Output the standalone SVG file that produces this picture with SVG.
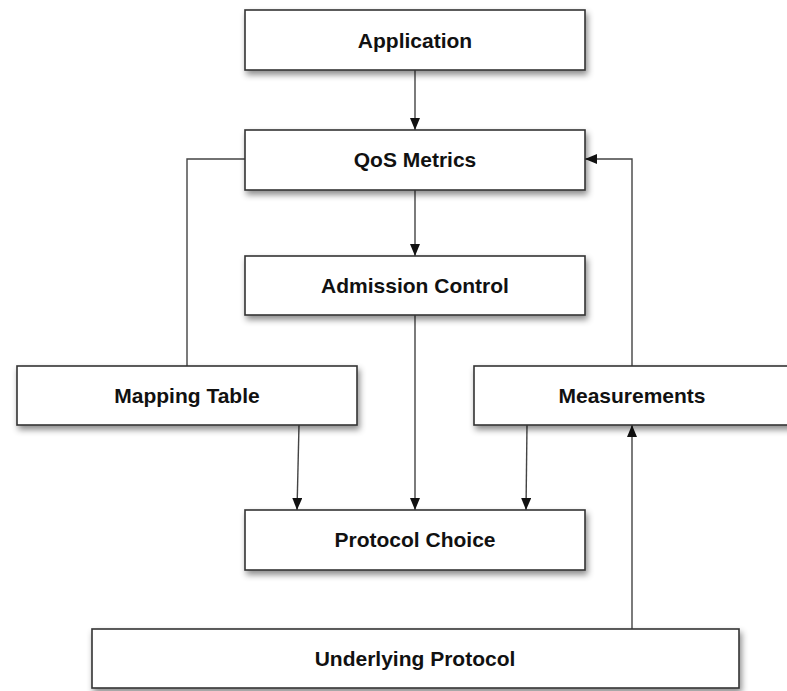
<svg xmlns="http://www.w3.org/2000/svg" width="787" height="691" viewBox="0 0 787 691">
<defs>
<filter id="sh" x="-10%" y="-20%" width="125%" height="160%">
<feDropShadow dx="2" dy="4" stdDeviation="3" flood-color="#000" flood-opacity="0.45"/>
</filter>
<marker id="ah" viewBox="0 0 12 10" refX="12" refY="5" markerWidth="12" markerHeight="10" markerUnits="userSpaceOnUse" orient="auto">
<path d="M0,0 L12,5 L0,10 z" fill="#111"/>
</marker>
<style>
.box{fill:#fff;stroke:#333;stroke-width:1.6;filter:url(#sh)}
.lbl{font-family:"Liberation Sans",Arial,Helvetica,sans-serif;font-weight:bold;font-size:21px;fill:#111;text-anchor:middle}
.c{fill:none;stroke:#444;stroke-width:1.4}
.a{marker-end:url(#ah)}
</style>
</defs>
<rect width="787" height="691" fill="#fff"/>
<g id="connectors">
<path class="c a" d="M415,70 L415,130"/>
<path class="c a" d="M415,190 L415,256"/>
<path class="c a" d="M415,315 L415,510"/>
<path class="c a" d="M299,425 L297,510"/>
<path class="c a" d="M527,425 L526,510"/>
<path class="c a" d="M632,629 L632,425"/>
<path class="c a" d="M632,366 L632,159 L585,159"/>
<path class="c" d="M187,366 L187,159 L245,159"/>
</g>
<g id="application"><rect class="box" x="245" y="10" width="340" height="60"/><text class="lbl" x="415" y="48">Application</text></g>
<g id="qos-metrics"><rect class="box" x="245" y="130" width="340" height="60"/><text class="lbl" x="415" y="167">QoS Metrics</text></g>
<g id="admission-control"><rect class="box" x="245" y="256" width="340" height="59"/><text class="lbl" x="415" y="293">Admission Control</text></g>
<g id="mapping-table"><rect class="box" x="17" y="366" width="340" height="59"/><text class="lbl" x="187" y="403">Mapping Table</text></g>
<g id="measurements"><rect class="box" x="474" y="366" width="318" height="59"/><text class="lbl" x="632" y="403">Measurements</text></g>
<g id="protocol-choice"><rect class="box" x="245" y="510" width="340" height="60"/><text class="lbl" x="415" y="547">Protocol Choice</text></g>
<g id="underlying-protocol"><rect class="box" x="92" y="629" width="647" height="59"/><text class="lbl" x="415" y="666">Underlying Protocol</text></g>
</svg>
